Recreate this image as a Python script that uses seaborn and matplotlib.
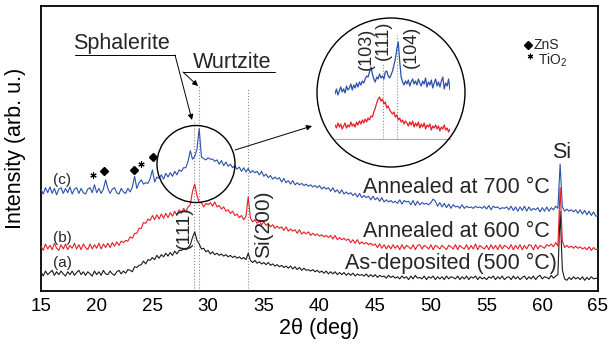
import numpy as np
import pandas as pd
import matplotlib
matplotlib.use("Agg")
import matplotlib.pyplot as plt
import seaborn as sns
from matplotlib.patches import Ellipse, FancyArrowPatch
from matplotlib.lines import Line2D

sns.set_style("white")
plt.rcParams["font.family"] = ["Liberation Sans", "DejaVu Sans"]
plt.rcParams["mathtext.fontset"] = "custom"
plt.rcParams["mathtext.rm"] = "Liberation Sans"
plt.rcParams["mathtext.it"] = "Liberation Sans"

# ---------------- data ----------------
two_theta = np.linspace(15, 65, 251)  # 0.2 deg grid

as_deposited = [
    27, 21, 28, 23, 26, 29, 22, 27, 23, 28,
    24, 21, 27, 23, 28, 22, 26, 29, 23, 27,
    22, 27, 24, 21, 28, 23, 27, 22, 29, 24,
    23, 28, 24, 22, 27, 29, 24, 28, 25, 30,
    29, 27, 34, 33, 36, 37, 42, 38, 44, 43,
    47, 44, 50, 46, 51, 48, 53, 49, 54, 50,
    56, 52, 57, 57, 59, 58, 61, 65, 75, 83,
    71, 66, 59, 60, 55, 57, 52, 55, 51, 53,
    50, 52, 49, 51, 48, 50, 47, 49, 46, 48,
    45, 47, 44, 53, 43, 40, 43, 39, 41, 38,
    40, 37, 40, 36, 38, 35, 37, 34, 36, 33,
    35, 32, 35, 31, 34, 30, 33, 29, 32, 29,
    30, 28, 30, 27, 29, 26, 28, 25, 28, 24,
    27, 24, 27, 23, 26, 23, 26, 22, 25, 22,
    25, 21, 24, 22, 23, 21, 24, 20, 23, 20,
    23, 19, 22, 20, 21, 18, 22, 19, 21, 18,
    20, 17, 21, 18, 20, 16, 21, 17, 22, 18,
    19, 17, 21, 16, 20, 18, 21, 16, 20, 17,
    20, 16, 21, 17, 20, 19, 17, 21, 16, 20,
    17, 21, 16, 20, 18, 21, 16, 20, 17, 19,
    16, 20, 18, 21, 16, 20, 17, 21, 16, 19,
    20, 16, 21, 17, 20, 16, 19, 21, 16, 20,
    17, 21, 16, 20, 22, 17, 20, 19, 17, 22,
    18, 21, 23, 112, 30, 17, 15, 19, 16, 20,
    17, 19, 16, 20, 15, 19, 16, 20, 17, 18,
    17,
]

annealed_600 = [
    63, 57, 66, 59, 64, 58, 67, 60, 57, 65,
    59, 66, 58, 64, 60, 67, 59, 65, 58, 66,
    61, 58, 66, 59, 65, 60, 67, 59, 66, 61,
    67, 61, 68, 63, 69, 64, 70, 68, 71, 70,
    76, 74, 81, 81, 88, 88, 96, 95, 101, 99,
    106, 100, 107, 101, 108, 102, 109, 103, 110, 105,
    112, 106, 114, 109, 116, 111, 118, 121, 140, 150,
    134, 124, 124, 118, 123, 121, 124, 119, 125, 118,
    120, 115, 118, 112, 114, 109, 112, 106, 108, 103,
    106, 100, 105, 132, 102, 97, 100, 95, 98, 93,
    97, 92, 95, 90, 93, 88, 91, 88, 90, 85,
    90, 84, 87, 84, 86, 81, 86, 80, 83, 80,
    83, 78, 81, 78, 80, 77, 79, 76, 78, 75,
    78, 73, 78, 72, 75, 72, 74, 71, 73, 68,
    72, 67, 72, 66, 69, 66, 68, 65, 67, 64,
    66, 61, 66, 60, 65, 59, 64, 59, 65, 60,
    64, 58, 65, 59, 64, 62, 59, 65, 58, 64,
    65, 59, 64, 62, 59, 65, 58, 64, 62, 59,
    64, 61, 58, 64, 62, 59, 65, 58, 64, 61,
    59, 65, 58, 64, 59, 66, 58, 64, 61, 59,
    64, 58, 65, 59, 64, 58, 65, 59, 64, 62,
    59, 65, 58, 64, 59, 65, 58, 64, 59, 65,
    64, 58, 65, 59, 64, 62, 60, 65, 63, 66,
    62, 68, 63, 145, 70, 61, 64, 61, 63, 60,
    63, 60, 62, 59, 61, 58, 62, 57, 61, 58,
    59,
]

annealed_700 = [
    143, 136, 145, 138, 146, 137, 144, 135, 143, 145,
    137, 144, 138, 146, 136, 143, 145, 137, 144, 138,
    136, 143, 145, 138, 149, 138, 144, 137, 143, 156,
    144, 137, 143, 145, 138, 136, 144, 139, 137, 144,
    139, 146, 161, 144, 152, 156, 150, 152, 151, 158,
    170, 153, 160, 158, 163, 157, 165, 160, 166, 161,
    168, 163, 170, 168, 173, 173, 182, 197, 185, 189,
    199, 228, 188, 186, 184, 187, 185, 185, 182, 184,
    178, 183, 176, 181, 175, 178, 173, 176, 171, 174,
    168, 173, 167, 172, 166, 169, 166, 168, 163, 168,
    161, 164, 159, 162, 157, 160, 157, 159, 153, 158,
    152, 155, 150, 155, 149, 152, 149, 151, 148, 150,
    147, 149, 146, 148, 145, 148, 143, 146, 143, 145,
    140, 145, 139, 142, 137, 142, 136, 139, 136, 138,
    134, 137, 132, 137, 131, 134, 131, 133, 128, 133,
    128, 131, 126, 131, 125, 128, 125, 127, 124, 126,
    123, 128, 122, 127, 125, 126, 121, 127, 120, 126,
    121, 124, 122, 123, 121, 124, 129, 126, 119, 124,
    118, 123, 117, 122, 116, 121, 118, 119, 116, 121,
    116, 119, 117, 118, 116, 119, 117, 118, 116, 119,
    115, 120, 114, 119, 117, 118, 115, 117, 116, 118,
    114, 119, 113, 118, 112, 118, 113, 119, 112, 118,
    113, 116, 114, 117, 111, 117, 112, 118, 112, 117,
    114, 119, 116, 178, 118, 112, 115, 112, 114, 111,
    114, 109, 114, 108, 113, 107, 112, 106, 111, 105,
    106,
]

# inset (27-31 deg, 0.05 deg grid)
inset_theta = np.linspace(27, 31, 81)
inset_700 = [
    45, 50, 44, 48, 52, 47, 50, 46, 53, 49,
    51, 55, 49, 54, 51, 56, 52, 57, 54, 58,
    56, 60, 63, 62, 67, 72, 65, 60, 57, 62,
    60, 65, 61, 63, 60, 67, 68, 63, 61, 64,
    68, 74, 80, 90, 97, 78, 62, 57, 54, 58,
    55, 59, 53, 57, 60, 55, 58, 54, 60, 56,
    53, 58, 55, 61, 52, 57, 54, 59, 51, 56,
    60, 53, 57, 52, 58, 62, 50, 56, 53, 60,
    49,
]
inset_600 = [
    14, 11, 16, 12, 15, 10, 13, 16, 11, 14,
    12, 17, 13, 15, 12, 17, 14, 18, 15, 19,
    16, 20, 17, 21, 19, 23, 22, 27, 31, 36,
    40, 42, 38, 40, 35, 37, 31, 33, 29, 27,
    25, 27, 22, 24, 19, 21, 17, 19, 15, 18,
    16, 13, 17, 14, 18, 12, 16, 13, 17, 11,
    15, 12, 16, 10, 14, 12, 15, 9, 13, 11,
    14, 10, 13, 8, 12, 10, 14, 9, 11, 7,
    10,
]

zns_peaks_x = [20.66, 23.35, 25.05]
zns_peaks_y = [169, 170, 188]
tio2_peaks_x = [19.69, 23.95]
tio2_peaks_y = [163, 178]

x_ticks = [15, 20, 25, 30, 35, 40, 45, 50, 55, 60, 65]

BLUE = "#2b50ad"
RED = "#e61e26"
BLACK = "#1a1a1a"
GRAY = "#8a8a8a"

# ---------------- figure ----------------
W, H = 610, 348
fig = plt.figure(figsize=(W / 100, H / 100), dpi=100)


def fx(x):
    return x / W


def fy(y):
    return 1 - y / H


def ftext(x, y, s, **kw):
    fig.text(fx(x), fy(y), s, **kw)


ax = fig.add_axes([fx(41), fy(291), 557 / W, 285 / H])

df = pd.DataFrame({"two_theta": two_theta, "a": as_deposited,
                   "b": annealed_600, "c": annealed_700})

# reference dotted lines
ax.plot([28.7, 28.7], [0, 240], ls=":", color=GRAY, lw=0.8, zorder=1)
ax.plot([29.15, 29.15], [0, 288], ls=":", color=GRAY, lw=0.8, zorder=1)
ax.plot([33.6, 33.6], [0, 283], ls=":", color=GRAY, lw=0.8, zorder=1)

for col, c in [("a", BLACK), ("b", RED), ("c", BLUE)]:
    sns.lineplot(data=df, x="two_theta", y=col, ax=ax, color=c, lw=0.8,
                 estimator=None, sort=False, legend=False, zorder=3)

ax.plot(zns_peaks_x, zns_peaks_y, ls="none", marker="D", ms=4.5, color="k", zorder=4)
ax.plot(tio2_peaks_x, tio2_peaks_y, ls="none", marker=(6, 2, 0), ms=4.5,
        mew=0.8, color="k", zorder=4)

ax.set_xlim(15, 65)
ax.set_ylim(0, 400)
ax.set_xticks(x_ticks)
ax.set_xticklabels([str(t) for t in x_ticks])
ax.set_yticks([100, 200, 300])
ax.set_yticklabels([])
ax.tick_params(direction="in", length=4, width=1.0, labelsize=13.5, pad=5,
               color="k", labelcolor="k")
for s in ax.spines.values():
    s.set_color("k")
    s.set_linewidth(1.3)
ax.set_xlabel("2θ (deg)", fontsize=15.5, labelpad=2, color="k")
ax.set_ylabel("Intensity (arb. u.)", fontsize=15.5, labelpad=6, color="k")

# ---------------- inset ----------------
axin = fig.add_axes([fx(335), fy(139), 115 / W, 109 / H])
axin.patch.set_alpha(0)
axin.plot([28.68, 28.68], [0, 76], ls=":", color=GRAY, lw=0.8)
axin.plot([29.17, 29.17], [0, 104], ls=":", color=GRAY, lw=0.8)
sns.lineplot(x=inset_theta, y=inset_600, ax=axin, color=RED, lw=0.9,
             estimator=None, sort=False, legend=False)
sns.lineplot(x=inset_theta, y=inset_700, ax=axin, color=BLUE, lw=0.9,
             estimator=None, sort=False, legend=False)
axin.set_xlim(27, 31)
axin.set_ylim(0, 109)
axin.set_xticks([28, 29, 30])
axin.set_xticklabels([])
axin.set_yticks([])
axin.set_xlabel("")
axin.set_ylabel("")
for side in ["top", "left", "right"]:
    axin.spines[side].set_visible(False)
axin.spines["bottom"].set_color("#aaaaaa")
axin.spines["bottom"].set_linewidth(0.8)
axin.tick_params(axis="x", direction="in", length=3, width=0.8, color="#aaaaaa")

# circles and arrows
fig.add_artist(Ellipse((fx(196), fy(164)), 2 * 39 / W, 2 * 38.5 / H,
                       transform=fig.transFigure, fill=False, ec="k", lw=1.0))
fig.add_artist(Ellipse((fx(391), fy(92.5)), 2 * 74 / W, 2 * 74.5 / H,
                       transform=fig.transFigure, fill=False, ec="k", lw=1.0))


def arrow(p0, p1):
    fig.add_artist(FancyArrowPatch((fx(p0[0]), fy(p0[1])), (fx(p1[0]), fy(p1[1])),
                                   transform=fig.transFigure, arrowstyle="-|>",
                                   mutation_scale=8, lw=0.7, color="k",
                                   shrinkA=0, shrinkB=0))


def line(p0, p1):
    fig.add_artist(Line2D([fx(p0[0]), fx(p1[0])], [fy(p0[1]), fy(p1[1])],
                          transform=fig.transFigure, color="k", lw=0.7))


arrow((235, 150), (312, 126))
line((75, 55), (175, 55))
arrow((175, 55), (192, 120))
line((183, 72), (275, 72))
arrow((183, 72), (198, 86))

# ---------------- texts ----------------
ftext(73, 48.5, "Sphalerite", fontsize=15.5, ha="left", va="baseline")
ftext(193, 68, "Wurtzite", fontsize=15.5, ha="left", va="baseline")
ftext(62, 180, "(c)", fontsize=11, ha="center", va="center")
ftext(62, 238, "(b)", fontsize=11, ha="center", va="center")
ftext(62, 263, "(a)", fontsize=11, ha="center", va="center")
ftext(363, 193, "Annealed at 700 °C", fontsize=15.5, ha="left", va="baseline")
ftext(363, 237, "Annealed at 600 °C", fontsize=15.5, ha="left", va="baseline")
ftext(345, 269, "As-deposited (500 °C)", fontsize=15.5, ha="left", va="baseline")
ftext(562, 158, "Si", fontsize=15.5, ha="center", va="baseline")
ftext(264, 224, "Si(200)", fontsize=15, rotation=90, ha="center", va="center")
ftext(184, 228, "(111)", fontsize=14, rotation=90, ha="center", va="center")
ftext(366.5, 49, "(103)", fontsize=13, rotation=90, ha="center", va="center")
ftext(383, 40, "(111)", fontsize=13, rotation=90, ha="center", va="center")
ftext(411.5, 47, "(104)", fontsize=13, rotation=90, ha="center", va="center")

# legend
fig.add_artist(Line2D([fx(528)], [fy(45)], marker="D", ms=4, color="k",
                      transform=fig.transFigure))
fig.add_artist(Line2D([fx(530)], [fy(56)], marker=(6, 2, 0), ms=4, mew=0.8,
                      color="k", transform=fig.transFigure))
ftext(533, 49.3, "ZnS", fontsize=10, ha="left", va="baseline")
ftext(538, 65, "TiO$_2$", fontsize=10, ha="left", va="baseline")

fig.savefig("out.png", dpi=100)
